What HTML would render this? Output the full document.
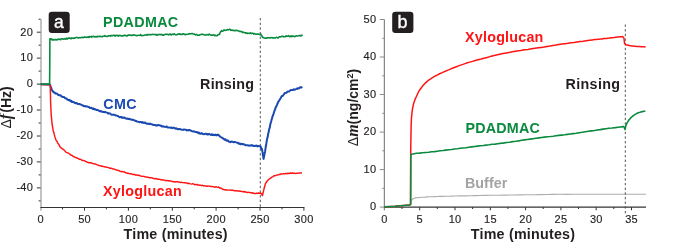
<!DOCTYPE html>
<html><head><meta charset="utf-8"><title>QCM-D adsorption</title>
<style>html,body{margin:0;padding:0;background:#fff;}body{width:700px;height:251px;overflow:hidden;position:relative;font-family:"Liberation Sans",sans-serif;}</style>
</head><body>
<svg width="700" height="251" viewBox="0 0 700 251" style="position:absolute;left:0;top:0;will-change:transform;font-family:'Liberation Sans',sans-serif">
<g fill="none" stroke-width="1">
<path d="M41.0,19.2 V210.7" stroke="#9c9c9c" stroke-width="1.2"/>
<path d="M384.4,19.5 V210.3" stroke="#878787" stroke-width="1.25"/>
<path d="M40.4,207.5 H304.4" stroke="#333333" stroke-width="1.15"/>
<path d="M383.9,207.1 H646.0" stroke="#333333" stroke-width="1.15"/>
<g stroke="#333333">
<path d="M36.8,32.2 H40.6"/>
<path d="M36.8,58.1 H40.6"/>
<path d="M36.8,84.1 H40.6"/>
<path d="M36.8,110.0 H40.6"/>
<path d="M36.8,136.0 H40.6"/>
<path d="M36.8,161.9 H40.6"/>
<path d="M36.8,187.9 H40.6"/>
<path d="M38.6,19.2 H40.6"/>
<path d="M38.6,45.2 H40.6"/>
<path d="M38.6,71.1 H40.6"/>
<path d="M38.6,97.1 H40.6"/>
<path d="M38.6,123.0 H40.6"/>
<path d="M38.6,149.0 H40.6"/>
<path d="M38.6,174.9 H40.6"/>
<path d="M38.6,200.9 H40.6"/>
<path d="M84.5,207.5 V210.7"/>
<path d="M128.4,207.5 V210.7"/>
<path d="M172.3,207.5 V210.7"/>
<path d="M216.1,207.5 V210.7"/>
<path d="M260.0,207.5 V210.7"/>
<path d="M303.9,207.5 V210.7"/>
<path d="M62.5,207.5 V209.4"/>
<path d="M106.4,207.5 V209.4"/>
<path d="M150.3,207.5 V209.4"/>
<path d="M194.2,207.5 V209.4"/>
<path d="M238.1,207.5 V209.4"/>
<path d="M282.0,207.5 V209.4"/>
<path d="M379.8,19.5 H384.4" stroke="#8c8c8c"/>
<path d="M379.8,57.0 H384.4" stroke="#8c8c8c"/>
<path d="M379.8,94.5 H384.4" stroke="#8c8c8c"/>
<path d="M379.8,132.1 H384.4" stroke="#8c8c8c"/>
<path d="M379.8,169.6 H384.4" stroke="#8c8c8c"/>
<path d="M379.8,207.1 H384.4" stroke="#8c8c8c"/>
<path d="M382.2,38.3 H384.4" stroke="#8c8c8c"/>
<path d="M382.2,75.8 H384.4" stroke="#8c8c8c"/>
<path d="M382.2,113.3 H384.4" stroke="#8c8c8c"/>
<path d="M382.2,150.8 H384.4" stroke="#8c8c8c"/>
<path d="M382.2,188.3 H384.4" stroke="#8c8c8c"/>
<path d="M419.7,207.1 V210.3"/>
<path d="M455.0,207.1 V210.3"/>
<path d="M490.3,207.1 V210.3"/>
<path d="M525.6,207.1 V210.3"/>
<path d="M560.9,207.1 V210.3"/>
<path d="M596.2,207.1 V210.3"/>
<path d="M631.5,207.1 V210.3"/>
<path d="M402.0,207.1 V209.0"/>
<path d="M437.3,207.1 V209.0"/>
<path d="M472.6,207.1 V209.0"/>
<path d="M507.9,207.1 V209.0"/>
<path d="M543.2,207.1 V209.0"/>
<path d="M578.5,207.1 V209.0"/>
<path d="M613.8,207.1 V209.0"/>
</g></g>
<g font-size="11" fill="#231f20" stroke="#231f20" stroke-width="0.15" letter-spacing="0.3">
<text x="33.2" y="35.5" text-anchor="end">20</text>
<text x="33.2" y="61.4" text-anchor="end">10</text>
<text x="33.2" y="87.4" text-anchor="end">0</text>
<text x="33.2" y="113.3" text-anchor="end">-10</text>
<text x="33.2" y="139.3" text-anchor="end">-20</text>
<text x="33.2" y="165.2" text-anchor="end">-30</text>
<text x="33.2" y="191.2" text-anchor="end">-40</text>
<text x="40.7" y="223.0" text-anchor="middle">0</text>
<text x="84.6" y="223.0" text-anchor="middle">50</text>
<text x="128.5" y="223.0" text-anchor="middle">100</text>
<text x="172.4" y="223.0" text-anchor="middle">150</text>
<text x="216.2" y="223.0" text-anchor="middle">200</text>
<text x="260.1" y="223.0" text-anchor="middle">250</text>
<text x="304.0" y="223.0" text-anchor="middle">300</text>
<text x="376.4" y="22.5" text-anchor="end">50</text>
<text x="376.4" y="60.0" text-anchor="end">40</text>
<text x="376.4" y="97.5" text-anchor="end">30</text>
<text x="376.4" y="135.1" text-anchor="end">20</text>
<text x="376.4" y="172.6" text-anchor="end">10</text>
<text x="376.4" y="210.1" text-anchor="end">0</text>
<text x="384.5" y="223.0" text-anchor="middle">0</text>
<text x="419.8" y="223.0" text-anchor="middle">5</text>
<text x="455.1" y="223.0" text-anchor="middle">10</text>
<text x="490.4" y="223.0" text-anchor="middle">15</text>
<text x="525.7" y="223.0" text-anchor="middle">20</text>
<text x="561.0" y="223.0" text-anchor="middle">25</text>
<text x="596.3" y="223.0" text-anchor="middle">30</text>
<text x="631.6" y="223.0" text-anchor="middle">35</text>
</g>
<path d="M384.4,206.7 L395.0,206.4 L409.4,205.6 L410.6,204.5 L410.9,200.8 L410.9,200.8 L411.2,200.5 L411.6,200.1 L412.1,199.6 L412.7,199.0 L413.5,198.6 L414.4,198.2 L415.5,197.9 L416.7,197.7 L418.0,197.6 L419.5,197.5 L421.2,197.3 L423.0,197.2 L425.1,197.1 L427.4,196.9 L429.8,196.8 L432.4,196.7 L434.9,196.6 L437.4,196.5 L439.8,196.4 L442.2,196.3 L444.5,196.3 L446.9,196.2 L449.3,196.2 L451.7,196.1 L454.1,196.0 L456.5,196.0 L458.9,195.9 L461.3,195.9 L463.7,195.8 L466.1,195.8 L468.1,195.8 L469.8,195.7 L471.5,195.7 L473.5,195.6 L476.2,195.6 L480.0,195.5 L485.2,195.4 L491.4,195.3 L498.4,195.2 L505.7,195.1 L513.0,195.0 L520.0,194.9 L526.7,194.8 L533.3,194.7 L540.0,194.6 L546.7,194.5 L553.3,194.4 L560.0,194.3 L566.6,194.3 L573.1,194.2 L579.6,194.2 L586.2,194.2 L593.0,194.2 L600.0,194.2 L607.9,194.2 L616.6,194.2 L625.5,194.2 L633.9,194.2 L640.9,194.2 L646.0,194.2" stroke="#adadad" stroke-width="1.15" fill="none" stroke-linejoin="round"/>
<path d="M260.3,18 V208.0" stroke="#4a4a4a" stroke-width="0.95" stroke-dasharray="2.4 2.26" fill="none"/>
<path d="M625.3,24.5 V213.6" stroke="#4a4a4a" stroke-width="0.95" stroke-dasharray="2.4 2.26" fill="none"/>
<path d="M40.6,84.3 L49.8,84.4 L50.1,84.8 L50.4,85.9 L50.7,87.0 L51.0,87.6 L51.3,88.0 L51.6,89.7 L52.2,90.3 L52.8,91.4 L53.3,91.4 L53.9,92.4 L54.6,92.5 L55.4,93.6 L56.1,93.4 L56.9,93.6 L57.6,94.2 L58.4,95.0 L59.1,95.3 L59.9,95.1 L60.6,95.3 L61.4,96.5 L62.1,96.6 L62.9,97.1 L63.7,96.9 L64.4,97.3 L65.2,98.3 L65.9,98.4 L66.7,98.4 L67.4,99.7 L68.2,99.8 L68.9,100.3 L69.7,100.0 L70.4,101.1 L71.2,100.7 L71.9,101.9 L72.7,101.8 L73.6,102.0 L74.4,102.6 L75.3,103.3 L76.1,103.0 L77.0,103.2 L77.8,103.9 L78.5,103.9 L79.3,104.0 L80.0,104.3 L80.8,104.5 L81.5,104.9 L82.3,105.2 L83.0,105.5 L83.8,106.2 L84.5,105.9 L85.3,106.4 L86.0,106.3 L86.8,106.6 L87.5,106.5 L88.3,107.0 L89.0,107.0 L89.8,107.9 L90.5,108.0 L91.3,107.8 L92.0,108.3 L92.8,109.0 L93.5,108.4 L94.3,109.4 L95.0,109.2 L95.8,109.5 L96.6,110.1 L97.5,109.9 L98.3,110.3 L99.2,110.8 L100.0,111.3 L100.9,111.0 L101.7,111.7 L102.5,111.8 L103.3,112.0 L104.1,112.0 L104.8,112.2 L105.6,112.1 L106.4,112.4 L107.2,112.6 L108.0,113.5 L108.8,113.2 L109.5,113.4 L110.3,113.5 L111.1,114.5 L111.9,114.8 L112.7,114.8 L113.5,114.6 L114.3,114.8 L115.0,115.1 L115.8,115.5 L116.6,115.5 L117.4,116.0 L118.2,116.0 L119.0,117.0 L119.8,117.2 L120.6,117.0 L121.3,116.9 L122.1,117.9 L122.9,117.5 L123.7,117.8 L124.5,117.6 L125.3,118.2 L126.1,118.5 L126.9,118.7 L127.7,118.6 L128.5,119.1 L129.3,118.8 L130.1,119.3 L130.8,119.3 L131.6,119.8 L132.4,119.6 L133.2,119.8 L134.0,120.3 L134.8,120.4 L135.6,121.0 L136.4,121.1 L137.2,121.6 L138.0,121.7 L138.8,121.9 L139.6,122.2 L140.4,121.9 L141.2,122.0 L142.0,122.8 L142.8,122.1 L143.6,122.9 L144.4,122.9 L145.2,122.5 L146.0,123.4 L146.8,123.7 L147.6,123.6 L148.4,123.8 L149.2,124.1 L150.0,123.6 L150.8,124.1 L151.6,124.2 L152.4,124.7 L153.2,124.8 L154.0,125.0 L154.8,124.9 L155.6,125.4 L156.4,125.3 L157.2,125.5 L158.0,125.1 L158.8,125.1 L159.6,125.3 L160.3,125.7 L161.1,125.6 L161.9,126.5 L162.7,126.3 L163.5,126.5 L164.3,126.7 L165.1,126.9 L165.9,126.8 L166.7,126.5 L167.5,127.4 L168.3,127.5 L169.1,127.4 L169.9,127.6 L170.7,127.8 L171.5,127.4 L172.3,128.2 L173.1,127.8 L173.9,127.8 L174.7,128.1 L175.5,128.7 L176.3,128.3 L177.1,129.0 L177.9,129.3 L178.7,129.0 L179.5,129.0 L180.3,129.2 L181.1,129.6 L181.9,129.8 L182.7,129.7 L183.5,129.9 L184.3,129.4 L185.1,129.6 L185.9,129.8 L186.7,130.4 L187.5,130.1 L188.3,130.4 L189.1,130.0 L189.9,130.1 L190.7,130.5 L191.5,131.0 L192.3,131.2 L193.2,131.4 L194.0,131.3 L194.8,131.7 L195.7,131.9 L196.5,132.2 L197.3,132.1 L198.2,133.1 L199.0,132.6 L199.8,133.6 L200.7,133.8 L201.5,133.1 L202.3,133.6 L203.1,134.1 L203.9,134.3 L204.7,133.9 L205.5,133.8 L206.3,133.8 L207.1,134.6 L207.9,133.9 L208.7,134.4 L209.5,134.0 L210.2,134.5 L211.0,135.0 L211.8,134.2 L212.6,135.0 L213.3,134.7 L214.1,135.2 L214.9,135.0 L215.7,134.6 L216.4,135.4 L217.2,135.0 L218.0,134.6 L218.8,135.2 L219.7,136.3 L220.5,136.9 L221.3,137.3 L222.2,137.7 L223.0,138.5 L223.8,138.9 L224.6,139.7 L225.4,139.2 L226.2,140.3 L227.0,140.8 L227.8,140.4 L228.6,141.5 L229.4,141.7 L230.2,142.2 L231.1,141.6 L231.9,141.7 L232.8,141.7 L233.6,142.3 L234.5,141.9 L235.2,142.0 L235.9,142.4 L236.7,142.6 L237.4,142.7 L238.2,143.0 L239.0,143.9 L239.8,143.5 L240.6,144.3 L241.4,143.8 L242.2,144.0 L243.0,144.4 L243.8,144.2 L244.6,144.6 L245.4,145.2 L246.2,145.3 L247.0,145.3 L247.8,145.2 L248.5,145.6 L249.3,145.7 L250.1,145.4 L250.9,145.6 L251.7,145.0 L252.5,145.8 L253.3,145.6 L254.1,146.0 L254.9,146.0 L255.7,145.7 L256.5,145.5 L257.3,146.5 L258.1,145.8 L258.9,146.2 L259.7,146.2 L260.5,146.2 L260.9,147.4 L261.2,148.4 L261.6,148.4 L262.0,149.6 L262.1,150.0 L262.3,151.1 L262.4,151.7 L262.5,152.3 L262.7,153.1 L262.8,153.9 L262.9,155.4 L263.1,155.8 L263.2,156.3 L263.3,157.8 L263.5,158.7 L263.6,158.9 L263.8,157.9 L263.9,157.2 L264.1,156.3 L264.2,155.8 L264.4,154.8 L264.5,154.2 L264.7,153.5 L264.8,153.1 L264.9,152.6 L265.1,151.7 L265.2,150.5 L265.3,149.7 L265.4,149.1 L265.6,148.1 L265.7,147.3 L265.8,146.2 L265.9,145.6 L266.1,145.5 L266.2,143.9 L266.3,143.5 L266.4,142.8 L266.6,142.3 L266.7,140.8 L266.9,140.1 L267.0,139.3 L267.2,138.6 L267.4,137.9 L267.5,137.6 L267.7,136.7 L267.9,136.0 L268.0,134.3 L268.2,133.6 L268.4,133.4 L268.5,132.8 L268.7,131.6 L268.9,131.0 L269.0,129.6 L269.2,129.2 L269.4,128.9 L269.6,128.0 L269.8,127.2 L270.0,126.5 L270.2,124.9 L270.4,124.0 L270.6,123.2 L270.8,122.7 L271.0,122.1 L271.2,121.5 L271.4,120.4 L271.6,119.5 L271.9,118.9 L272.2,117.8 L272.4,117.1 L272.7,115.7 L273.0,115.7 L273.3,114.3 L273.5,114.2 L273.8,113.1 L274.1,112.0 L274.4,111.0 L274.6,110.4 L274.9,109.9 L275.2,109.2 L275.5,107.8 L275.9,107.0 L276.2,106.7 L276.5,106.0 L276.9,105.1 L277.2,104.1 L277.6,103.8 L277.9,102.4 L278.2,101.9 L278.6,101.3 L278.9,101.1 L279.5,99.9 L280.1,99.2 L280.8,97.9 L281.4,96.8 L282.0,95.9 L282.7,96.0 L283.4,95.0 L284.2,93.9 L284.9,92.9 L285.6,92.9 L286.4,92.7 L287.1,92.0 L287.8,91.4 L288.6,91.5 L289.3,91.5 L290.1,90.5 L290.8,90.0 L291.6,90.1 L292.3,90.0 L293.1,90.0 L293.8,89.3 L294.6,89.7 L295.3,89.5 L296.1,89.0 L296.8,88.5 L297.6,89.0 L298.3,88.1 L299.1,88.3 L299.9,87.5 L300.7,87.2 L301.4,87.5 L302.2,86.8" stroke="#1a4ab0" stroke-width="2.0" fill="none" stroke-linejoin="round"/>
<path d="M40.6,84.5 L50.2,84.9 L50.2,85.5 L50.2,86.2 L50.3,87.2 L50.3,88.2 L50.3,89.3 L50.3,90.4 L50.3,90.8 L50.4,91.9 L50.4,92.7 L50.4,94.0 L50.4,94.5 L50.5,95.3 L50.5,96.2 L50.5,97.4 L50.5,98.6 L50.5,99.5 L50.6,100.3 L50.6,101.4 L50.6,102.3 L50.6,102.8 L50.7,103.7 L50.7,105.0 L50.8,105.9 L50.8,106.4 L50.9,107.7 L50.9,108.4 L50.9,109.4 L51.0,110.3 L51.0,111.1 L51.1,111.9 L51.1,113.0 L51.2,114.0 L51.2,115.3 L51.3,115.7 L51.4,117.1 L51.5,117.6 L51.6,118.6 L51.7,119.7 L51.7,120.6 L51.8,121.3 L51.9,122.0 L52.0,123.2 L52.1,124.0 L52.2,125.3 L52.4,125.7 L52.5,126.6 L52.7,127.8 L52.8,128.1 L53.0,129.2 L53.1,130.3 L53.3,131.2 L53.6,131.6 L53.8,132.6 L54.1,133.5 L54.4,134.9 L54.6,135.5 L54.9,136.7 L55.2,137.7 L55.4,138.3 L55.7,139.2 L56.2,140.5 L56.8,141.2 L57.3,141.9 L57.8,143.1 L58.3,143.8 L58.9,144.6 L59.4,145.4 L59.9,146.8 L60.8,147.6 L61.6,148.2 L62.5,149.1 L63.3,149.3 L64.2,150.2 L65.0,151.0 L65.9,152.1 L66.8,152.6 L67.6,152.8 L68.5,153.2 L69.3,153.9 L70.2,154.4 L71.0,155.2 L71.9,155.3 L72.8,156.1 L73.6,156.5 L74.5,157.0 L75.3,157.4 L76.2,157.7 L77.0,158.0 L77.9,158.4 L78.8,158.8 L79.6,159.4 L80.5,159.3 L81.3,159.7 L82.2,160.4 L83.0,160.4 L83.9,160.6 L84.8,160.9 L85.6,161.5 L86.5,161.6 L87.3,162.3 L88.2,162.5 L89.0,162.8 L89.9,162.7 L90.7,162.8 L91.6,163.0 L92.4,163.4 L93.3,163.8 L94.1,163.8 L95.0,163.9 L95.8,164.3 L96.7,164.6 L97.5,164.9 L98.4,165.3 L99.2,165.6 L100.1,165.8 L100.9,165.7 L101.8,166.4 L102.7,166.3 L103.5,166.6 L104.4,166.7 L105.2,167.1 L106.1,167.0 L106.9,167.2 L107.8,167.4 L108.7,167.6 L109.5,168.2 L110.4,168.2 L111.2,168.3 L112.1,168.5 L112.9,169.1 L113.8,169.0 L114.6,169.1 L115.5,169.8 L116.3,169.9 L117.2,170.4 L118.0,170.2 L118.9,170.7 L119.7,171.2 L120.6,171.4 L121.5,171.7 L122.4,171.4 L123.3,171.8 L124.2,172.0 L125.1,172.3 L126.0,173.0 L126.9,173.0 L127.8,173.4 L128.7,173.3 L129.6,173.8 L130.5,173.8 L131.4,173.8 L132.3,174.3 L133.2,174.6 L134.1,174.3 L135.0,174.8 L135.8,175.0 L136.7,175.0 L137.6,175.3 L138.5,175.3 L139.4,175.5 L140.3,175.8 L141.2,176.2 L142.1,176.4 L143.0,176.3 L143.9,176.4 L144.8,176.7 L145.7,177.1 L146.6,177.0 L147.5,177.2 L148.4,177.3 L149.3,177.8 L150.2,177.8 L151.1,177.7 L152.0,177.9 L152.9,178.2 L153.8,178.5 L154.7,178.7 L155.6,178.5 L156.5,178.7 L157.4,179.2 L158.3,179.2 L159.2,179.2 L160.1,179.4 L161.0,179.9 L161.9,179.7 L162.8,180.0 L163.7,180.0 L164.6,180.1 L165.4,180.6 L166.3,180.8 L167.2,180.5 L168.1,180.6 L169.0,181.0 L169.9,180.8 L170.8,180.9 L171.7,181.5 L172.6,181.4 L173.5,181.7 L174.4,181.6 L175.3,182.0 L176.2,181.8 L177.1,181.7 L178.0,181.8 L178.9,182.2 L179.8,182.3 L180.7,182.6 L181.6,182.2 L182.5,182.6 L183.4,182.6 L184.3,182.8 L185.2,182.7 L186.1,182.9 L187.0,183.2 L187.9,183.5 L188.8,183.2 L189.7,183.6 L190.7,183.9 L191.6,184.1 L192.5,183.8 L193.4,183.9 L194.3,184.5 L195.2,184.7 L196.1,184.5 L197.0,184.4 L197.9,185.1 L198.8,184.9 L199.8,185.3 L200.7,185.3 L201.6,185.6 L202.5,185.3 L203.4,185.8 L204.3,185.6 L205.2,185.8 L206.1,186.2 L207.0,186.3 L207.9,186.0 L208.8,186.1 L209.7,186.3 L210.6,186.5 L211.5,186.5 L212.4,186.4 L213.3,186.6 L214.2,187.0 L215.1,187.2 L216.0,186.7 L216.9,187.1 L217.8,187.4 L218.7,187.0 L219.6,187.9 L220.6,187.9 L221.6,188.6 L222.5,189.0 L223.4,189.5 L224.4,189.7 L225.3,189.8 L226.1,190.0 L227.0,189.9 L227.8,190.1 L228.7,190.1 L229.6,190.1 L230.4,189.9 L231.3,190.4 L232.1,190.3 L233.0,190.2 L233.9,190.7 L234.8,190.8 L235.7,190.7 L236.6,190.7 L237.5,191.0 L238.4,190.9 L239.3,191.0 L240.2,191.3 L241.1,191.2 L242.0,191.6 L242.9,191.7 L243.8,191.5 L244.7,192.0 L245.6,191.8 L246.5,192.3 L247.4,192.5 L248.3,192.4 L249.1,192.3 L250.0,192.6 L250.8,192.7 L251.7,193.1 L252.6,192.7 L253.4,193.3 L254.3,193.5 L255.1,193.4 L256.0,193.6 L256.9,193.1 L257.7,193.4 L258.6,193.0 L259.4,193.2 L260.3,193.0 L261.0,193.4 L261.8,194.6 L262.5,195.6 L262.7,194.2 L262.9,193.5 L263.1,192.8 L263.3,191.6 L263.5,191.2 L263.7,189.9 L263.9,189.4 L264.2,188.0 L264.4,187.3 L264.7,186.6 L265.0,185.2 L265.2,184.3 L265.5,183.5 L266.2,182.5 L266.9,181.4 L267.7,180.5 L268.4,179.6 L269.1,179.2 L270.1,178.4 L271.0,177.9 L272.0,176.9 L272.9,176.7 L273.9,175.7 L274.8,175.7 L275.7,175.5 L276.6,175.1 L277.4,175.1 L278.3,174.7 L279.2,174.4 L280.1,174.4 L281.0,173.7 L281.9,174.1 L282.7,173.9 L283.6,173.6 L284.5,173.8 L285.4,173.4 L286.2,173.8 L287.1,173.5 L288.0,173.3 L288.9,173.5 L289.7,173.2 L290.6,173.0 L291.5,173.3 L292.3,172.9 L293.2,173.4 L294.1,173.1 L294.9,173.3 L295.8,173.5 L296.7,173.3 L297.6,173.3 L298.4,173.1 L299.3,172.9 L300.2,172.9 L301.0,173.0 L301.9,173.3" stroke="#ff1414" stroke-width="1.45" fill="none" stroke-linejoin="round"/>
<path d="M40.6,84.1 L49.6,84.1 L49.8,60.0 L49.9,38.8 L50.6,38.8 L51.4,39.1 L52.2,40.1 L53.0,39.4 L53.8,40.0 L54.5,39.8 L55.3,39.5 L56.1,40.0 L56.9,39.5 L57.6,39.8 L58.4,39.3 L59.1,39.1 L59.9,39.4 L60.6,39.7 L61.4,38.8 L62.1,38.7 L62.9,39.0 L63.6,39.3 L64.4,38.9 L65.2,38.6 L65.9,39.2 L66.7,38.2 L67.4,39.0 L68.2,38.3 L68.9,38.1 L69.7,38.0 L70.4,38.2 L71.2,38.7 L71.9,37.9 L72.7,38.3 L73.4,38.4 L74.2,38.0 L74.9,38.2 L75.7,37.5 L76.6,37.5 L77.4,37.6 L78.3,38.0 L79.1,37.7 L80.0,37.5 L80.8,37.7 L81.5,37.5 L82.3,37.2 L83.0,37.7 L83.8,37.5 L84.5,36.9 L85.3,37.2 L86.0,37.1 L86.8,37.4 L87.5,37.2 L88.3,36.7 L89.0,37.4 L89.8,36.4 L90.5,36.7 L91.3,37.1 L92.0,36.4 L92.8,36.7 L93.5,36.2 L94.3,36.8 L95.0,36.9 L95.8,36.6 L96.5,36.9 L97.3,36.3 L98.0,36.7 L98.8,36.5 L99.6,36.4 L100.5,36.3 L101.3,36.6 L102.2,36.7 L103.0,36.2 L103.9,36.3 L104.7,35.6 L105.5,36.3 L106.3,36.2 L107.1,36.6 L107.9,36.3 L108.7,35.7 L109.5,35.8 L110.3,36.1 L111.1,35.4 L111.9,35.8 L112.8,35.5 L113.6,35.4 L114.4,35.3 L115.2,36.1 L116.0,35.3 L116.8,35.4 L117.6,35.6 L118.4,36.1 L119.2,35.2 L120.0,35.5 L120.8,35.6 L121.6,36.0 L122.4,35.9 L123.2,35.9 L124.0,35.3 L124.8,35.4 L125.6,35.3 L126.4,35.9 L127.2,36.0 L128.0,35.1 L128.8,35.1 L129.6,35.1 L130.4,35.1 L131.2,35.4 L132.0,35.5 L132.8,35.1 L133.6,34.8 L134.4,35.2 L135.2,35.2 L136.0,35.4 L136.8,35.8 L137.6,35.5 L138.4,35.2 L139.2,35.3 L140.0,35.4 L140.8,34.7 L141.6,35.6 L142.4,35.5 L143.2,35.5 L144.0,35.4 L144.8,35.0 L145.6,35.0 L146.4,34.6 L147.2,35.2 L148.0,34.6 L148.8,34.5 L149.6,34.7 L150.4,34.6 L151.2,34.8 L152.0,34.5 L152.8,34.4 L153.6,34.5 L154.4,34.5 L155.2,34.7 L156.0,34.4 L156.8,35.3 L157.6,35.0 L158.4,34.4 L159.2,34.5 L160.0,34.6 L160.8,34.6 L161.6,34.3 L162.4,35.1 L163.2,35.3 L163.9,34.7 L164.7,34.7 L165.5,34.2 L166.3,34.2 L167.1,34.4 L167.9,34.3 L168.7,34.9 L169.5,34.2 L170.3,34.0 L171.1,35.0 L171.8,34.5 L172.6,34.1 L173.4,34.5 L174.2,33.9 L175.0,34.4 L175.8,34.9 L176.6,34.7 L177.4,34.5 L178.2,34.0 L178.9,34.1 L179.7,33.9 L180.5,34.5 L181.3,34.2 L182.1,34.5 L182.9,33.9 L183.7,33.8 L184.5,34.4 L185.3,34.6 L186.1,34.4 L186.8,34.3 L187.6,34.3 L188.4,34.2 L189.2,33.6 L190.0,33.9 L190.8,33.8 L191.7,33.5 L192.5,33.6 L193.3,34.0 L194.2,34.0 L195.0,34.6 L195.8,34.9 L196.7,34.4 L197.5,35.1 L198.3,35.2 L199.2,35.2 L200.0,34.7 L200.8,34.5 L201.7,34.4 L202.5,34.4 L203.3,34.4 L204.2,34.8 L205.0,35.1 L205.8,35.0 L206.7,34.6 L207.5,34.7 L208.3,34.9 L209.2,34.1 L210.0,34.7 L210.8,35.1 L211.5,35.1 L212.2,35.2 L213.0,35.0 L213.8,34.8 L214.5,35.6 L215.2,35.2 L216.0,35.8 L216.9,35.8 L217.7,34.9 L218.6,34.6 L219.2,34.5 L219.8,33.5 L220.3,32.2 L220.9,31.4 L221.5,30.7 L222.4,31.3 L223.2,30.9 L224.1,29.9 L224.9,30.4 L225.8,30.3 L226.6,30.0 L227.5,29.6 L228.3,29.9 L229.2,29.4 L230.0,29.3 L230.8,30.4 L231.5,30.1 L232.2,30.1 L233.0,30.6 L233.8,30.2 L234.5,30.7 L235.2,30.8 L236.0,30.2 L236.8,30.4 L237.7,30.7 L238.5,30.8 L239.3,31.4 L240.1,31.2 L240.9,31.6 L241.8,31.5 L242.6,32.6 L243.4,32.1 L244.2,32.5 L245.1,32.8 L245.9,33.3 L246.7,32.9 L247.5,33.5 L248.3,33.2 L249.1,33.3 L249.8,33.4 L250.6,32.9 L251.4,33.5 L252.2,33.3 L253.0,33.2 L253.8,34.1 L254.5,33.5 L255.3,33.9 L256.0,34.2 L256.8,34.1 L257.6,33.9 L258.3,34.1 L259.1,34.2 L259.8,34.6 L260.6,33.9 L261.1,35.1 L261.6,35.5 L262.1,36.2 L262.6,37.5 L263.6,37.6 L264.5,38.0 L265.3,38.2 L266.1,38.3 L266.9,37.8 L267.6,37.9 L268.4,37.8 L269.2,37.7 L270.0,37.9 L270.8,37.6 L271.6,37.7 L272.3,37.6 L273.1,38.1 L273.9,37.8 L274.7,38.0 L275.4,38.0 L276.2,37.3 L277.0,37.6 L277.8,37.9 L278.5,37.7 L279.2,36.8 L280.0,36.7 L280.8,36.9 L281.5,36.4 L282.2,36.5 L283.0,36.2 L283.8,36.8 L284.6,36.8 L285.4,36.8 L286.2,35.8 L287.0,36.3 L287.8,36.3 L288.6,35.7 L289.5,36.5 L290.3,36.6 L291.1,35.8 L291.9,36.6 L292.7,36.0 L293.5,36.1 L294.4,36.6 L295.2,36.5 L296.0,35.7 L296.8,36.0 L297.6,36.0 L298.5,35.7 L299.3,35.5 L300.1,35.6 L301.0,36.0 L301.8,35.1 L302.6,35.7" stroke="#0a8a3e" stroke-width="1.6" fill="none" stroke-linejoin="round"/>
<path d="M384.4,206.9 L395.0,206.3 L409.4,205.0 L410.6,204.4 L410.7,154.0 L410.7,154.0 L410.7,151.6 L410.8,148.3 L410.8,144.3 L410.9,140.4 L410.9,137.0 L411.0,134.1 L411.0,131.4 L411.1,129.0 L411.1,126.6 L411.2,124.3 L411.3,122.3 L411.4,120.5 L411.4,118.7 L411.6,117.0 L411.7,115.3 L411.9,113.6 L412.1,111.8 L412.3,110.1 L412.6,108.5 L412.9,106.9 L413.2,105.4 L413.5,104.1 L413.9,102.8 L414.3,101.6 L414.7,100.4 L415.1,99.2 L415.6,98.1 L416.1,97.1 L416.6,96.0 L417.1,95.0 L417.5,94.0 L417.8,93.3 L418.2,92.6 L418.6,91.7 L419.3,90.6 L420.2,89.3 L421.4,87.7 L422.6,86.1 L424.0,84.5 L425.3,83.1 L426.6,81.9 L428.0,80.7 L429.5,79.6 L431.0,78.6 L432.5,77.6 L434.1,76.7 L435.8,75.7 L437.5,74.9 L439.2,74.0 L440.8,73.2 L442.3,72.6 L443.8,71.9 L445.3,71.3 L446.8,70.6 L448.5,69.9 L450.3,69.1 L452.3,68.3 L454.3,67.5 L456.4,66.7 L458.5,65.9 L460.6,65.1 L462.8,64.4 L465.1,63.6 L467.4,62.8 L469.9,62.1 L472.5,61.4 L475.3,60.5 L478.1,59.7 L481.0,59.0 L484.0,58.2 L487.0,57.5 L490.1,56.6 L493.2,55.8 L496.4,55.0 L499.7,54.3 L503.0,53.6 L506.5,52.9 L510.0,52.3 L513.5,51.6 L517.0,51.0 L520.6,50.5 L524.3,49.8 L528.0,49.4 L531.6,48.8 L535.0,48.2 L538.2,47.8 L541.2,47.4 L544.2,47.0 L547.1,46.4 L550.0,46.0 L553.0,45.5 L556.0,45.1 L558.9,44.6 L561.9,44.1 L564.9,43.7 L567.9,43.3 L570.9,42.8 L574.0,42.5 L577.0,42.0 L580.0,41.6 L583.1,41.2 L586.3,40.7 L589.4,40.3 L592.2,39.9 L594.7,39.5 L596.6,39.4 L597.9,39.3 L599.1,39.2 L600.4,39.1 L602.0,38.9 L604.1,38.6 L606.6,38.4 L609.1,38.1 L611.7,37.7 L613.9,37.5 L616.0,37.2 L618.0,37.0 L619.9,36.8 L621.5,36.8 L622.6,36.6 L623.9,38.0 L624.6,43.6 L624.6,43.6 L624.8,43.7 L625.0,44.0 L625.3,44.2 L625.7,44.5 L626.3,44.7 L627.1,44.9 L628.2,45.2 L629.4,45.5 L630.6,45.7 L631.8,45.9 L633.0,46.1 L634.2,46.2 L635.4,46.3 L636.7,46.4 L638.0,46.5 L639.6,46.6 L641.3,46.7 L643.0,46.8 L644.5,46.8 L645.6,46.9" stroke="#ff1414" stroke-width="1.5" fill="none" stroke-linejoin="round"/>
<path d="M384.4,206.9 L395.0,206.3 L409.4,205.0 L410.6,204.4 L410.8,155.0 L410.8,155.0 L411.1,154.8 L411.4,154.6 L411.9,154.2 L412.8,154.0 L414.3,153.7 L416.5,153.3 L419.3,153.1 L422.4,152.8 L425.7,152.5 L428.7,152.2 L431.6,151.8 L434.4,151.6 L437.3,151.2 L440.1,150.8 L443.0,150.5 L445.9,150.1 L448.8,149.7 L451.6,149.5 L454.5,149.0 L457.4,148.7 L460.3,148.3 L463.1,148.0 L466.0,147.7 L468.8,147.3 L471.7,146.9 L474.6,146.5 L477.5,146.1 L480.4,145.8 L483.3,145.5 L486.1,145.1 L489.1,144.8 L492.2,144.3 L495.2,144.1 L497.8,143.7 L500.0,143.4 L501.3,143.3 L501.9,143.1 L502.3,143.2 L502.9,143.1 L504.3,142.9 L506.5,142.5 L509.3,142.2 L512.5,141.6 L515.7,141.3 L518.7,140.9 L521.6,140.3 L524.4,139.9 L527.3,139.5 L530.1,139.1 L533.0,138.7 L535.9,138.3 L538.8,137.9 L541.6,137.5 L544.5,137.1 L547.4,136.7 L550.3,136.5 L553.1,136.2 L556.0,135.8 L558.8,135.4 L561.7,135.1 L564.6,134.8 L567.4,134.4 L570.3,134.0 L573.2,133.6 L576.1,133.2 L579.1,132.7 L582.2,132.3 L585.4,131.8 L588.5,131.3 L591.5,130.9 L594.4,130.5 L597.3,130.0 L600.2,129.6 L603.0,129.1 L605.9,128.7 L608.9,128.3 L612.1,128.0 L615.3,127.6 L618.0,127.2 L620.2,127.0 L621.7,126.9 L622.6,126.6 L623.1,126.7 L623.5,126.5 L623.8,126.5 L625.0,129.4 L626.0,125.1 L626.0,125.1 L626.4,124.4 L626.8,123.4 L627.4,122.3 L628.1,121.1 L628.8,120.1 L629.6,119.2 L630.4,118.2 L631.3,117.4 L632.2,116.5 L633.1,115.8 L634.0,115.2 L634.8,114.6 L635.7,114.1 L636.5,113.6 L637.4,113.2 L638.3,112.8 L639.2,112.5 L640.0,112.3 L640.9,112.0 L641.7,111.8 L642.5,111.6 L643.4,111.4 L644.2,111.3 L644.8,111.2 L645.3,111.1" stroke="#0a8a3e" stroke-width="1.6" fill="none" stroke-linejoin="round"/>
<rect x="48.7" y="11.8" width="21.0" height="21.1" rx="3.2" ry="3.2" fill="#231f20"/>
<text x="58.8" y="27.8" font-size="17.5" fill="#ffffff" stroke="#ffffff" stroke-width="0.35" text-anchor="middle">a</text>
<rect x="392.2" y="11.8" width="21.2" height="21.1" rx="3.2" ry="3.2" fill="#231f20"/>
<text x="402.6" y="28.1" font-size="18" fill="#ffffff" stroke="#ffffff" stroke-width="0.35" text-anchor="middle">b</text>
<text x="103.1" y="26.9" font-size="14.3" font-weight="bold" fill="#0a8a3e" textLength="75.0" lengthAdjust="spacing">PDADMAC</text>
<text x="103.3" y="109.1" font-size="14.3" font-weight="bold" fill="#1a4ab0" textLength="33.2" lengthAdjust="spacing">CMC</text>
<text x="102.9" y="196.2" font-size="14.3" font-weight="bold" fill="#ff1414" textLength="78.8" lengthAdjust="spacing">Xyloglucan</text>
<text x="200.1" y="88.8" font-size="14.3" font-weight="bold" fill="#231f20" textLength="53.8" lengthAdjust="spacing">Rinsing</text>
<text x="123.6" y="239.2" font-size="14.3" font-weight="bold" fill="#231f20" textLength="104.0" lengthAdjust="spacing">Time (minutes)</text>
<text x="465.1" y="41.8" font-size="14.3" font-weight="bold" fill="#ff1414" textLength="78.2" lengthAdjust="spacing">Xyloglucan</text>
<text x="465.5" y="133.2" font-size="14.3" font-weight="bold" fill="#0a8a3e" textLength="74.3" lengthAdjust="spacing">PDADMAC</text>
<text x="464.9" y="187.5" font-size="14.3" font-weight="bold" fill="#a3a3a3" textLength="42.5" lengthAdjust="spacing">Buffer</text>
<text x="565.6" y="88.8" font-size="14.3" font-weight="bold" fill="#231f20" textLength="54.4" lengthAdjust="spacing">Rinsing</text>
<text x="470.8" y="239.4" font-size="14.3" font-weight="bold" fill="#231f20" textLength="104.2" lengthAdjust="spacing">Time (minutes)</text>
<g transform="translate(11.0,128.6) rotate(-90)" fill="#231f20" font-size="14" font-weight="bold"><text x="0" y="0"><tspan font-weight="normal">Δ</tspan><tspan font-family="'Liberation Serif',serif" font-style="italic" font-size="16">f</tspan><tspan dx="1.2">(Hz)</tspan></text></g>
<g transform="translate(357.5,146.2) rotate(-90)" fill="#231f20" font-size="14" font-weight="bold"><text x="0" y="0"><tspan font-weight="normal">Δ</tspan><tspan font-family="'Liberation Serif',serif" font-style="italic" font-size="16">m</tspan><tspan>(ng/cm</tspan><tspan font-size="9" dy="-5">2</tspan><tspan dy="5">)</tspan></text></g>
</svg>
</body></html>
